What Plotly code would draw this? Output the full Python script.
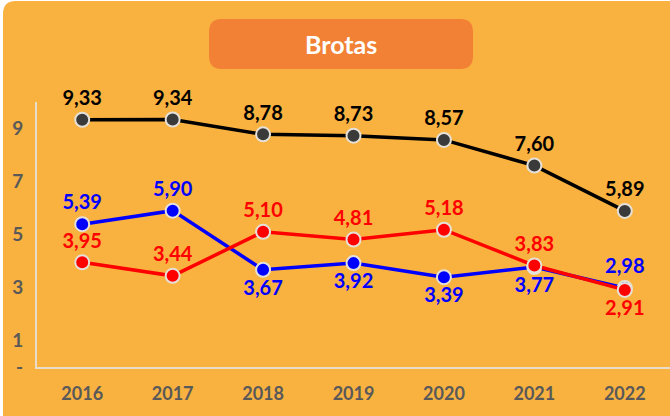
import plotly.graph_objects as go

years = ["2016", "2017", "2018", "2019", "2020", "2021", "2022"]
black_vals = [9.33, 9.34, 8.78, 8.73, 8.57, 7.60, 5.89]
blue_vals = [5.39, 5.90, 3.67, 3.92, 3.39, 3.77, 2.98]
red_vals = [3.95, 3.44, 5.10, 4.81, 5.18, 3.83, 2.91]
blue_pos = ["top center", "top center", "bottom center", "bottom center", "bottom center", "bottom center", "top center"]
red_pos = ["top center"] * 6 + ["bottom center"]
black_pos = ["top center"] * 7
ytick_vals = [0, 1, 3, 5, 7, 9]
ytick_text = ["-", "1", "3", "5", "7", "9"]
title_text = "Brotas"

BG = "#F9B13F"
FONT = "Lato"

fig = go.Figure()

def add_series(vals, line_color, marker_color, text_color, pos):
    fig.add_trace(go.Scatter(
        x=years, y=vals, mode="lines+markers+text",
        line=dict(color=line_color, width=3.5),
        marker=dict(size=14, color=marker_color, line=dict(color="#E6E1D8", width=2)),
        texttemplate="%{y:.2f}", textposition=pos,
        textfont=dict(family=FONT, size=20, color=text_color, weight="bold"),
        cliponaxis=False, showlegend=False, hoverinfo="skip",
    ))

add_series(black_vals, "#000000", "#3A3A3A", "#000000", black_pos)
add_series(blue_vals, "#0000FF", "#0000FF", "#0000FF", blue_pos)
add_series(red_vals, "#FF0000", "#FF0000", "#FF0000", red_pos)

W, H = 670, 416
l, r, t, b = 37, 0, 102, 49
pw, ph = W - l - r, H - t - b

fig.update_layout(
    width=W, height=H,
    separators=",.",
    paper_bgcolor="white",
    plot_bgcolor="rgba(0,0,0,0)",
    margin=dict(l=l, r=r, t=t, b=b),
    xaxis=dict(
        type="category", range=[-0.5, 6.5],
        showgrid=False, zeroline=False,
        showline=True, linecolor="#E8DCCB", linewidth=2,
        ticks="", tickfont=dict(family=FONT, size=18, color="#595959", weight="bold"),
        ticklabelstandoff=9,
    ),
    yaxis=dict(
        range=[0, 10], tickvals=ytick_vals, ticktext=ytick_text,
        showgrid=False, zeroline=False,
        showline=True, linecolor="#E8DCCB", linewidth=2,
        ticks="", tickfont=dict(family=FONT, size=19, color="#595959", weight="bold"),
        ticklabelstandoff=8,
    ),
)

def px(x):
    return (x - l) / pw

def py(y):
    return (H - b - y) / ph

bg_path = (f"M {px(3)} {py(416)} L {px(3)} {py(14)} Q {px(3)} {py(1)} {px(16)} {py(1)} "
           f"L {px(670)} {py(1)} L {px(670)} {py(416)} Z")
fig.add_shape(type="path", xref="paper", yref="paper", layer="below",
              path=bg_path, fillcolor=BG, line=dict(width=0))

x0, x1, y0, y1, rr = 209, 473, 19, 69, 13
tb_path = (f"M {px(x0+rr)} {py(y0)} L {px(x1-rr)} {py(y0)} Q {px(x1)} {py(y0)} {px(x1)} {py(y0+rr)} "
           f"L {px(x1)} {py(y1-rr)} Q {px(x1)} {py(y1)} {px(x1-rr)} {py(y1)} "
           f"L {px(x0+rr)} {py(y1)} Q {px(x0)} {py(y1)} {px(x0)} {py(y1-rr)} "
           f"L {px(x0)} {py(y0+rr)} Q {px(x0)} {py(y0)} {px(x0+rr)} {py(y0)} Z")
fig.add_shape(type="path", xref="paper", yref="paper", layer="below",
              path=tb_path, fillcolor="#F28135", line=dict(width=0))
fig.add_annotation(xref="paper", yref="paper", x=px((x0 + x1) / 2), y=py((y0 + y1) / 2),
                   text=title_text, showarrow=False, xanchor="center", yanchor="middle",
                   font=dict(family=FONT, size=25, color="white", weight="bold"))

fig.write_html("out.html", config={"displayModeBar": False},
               post_script="document.body.style.margin='0';document.body.style.padding='0';document.body.style.overflow='hidden';")
